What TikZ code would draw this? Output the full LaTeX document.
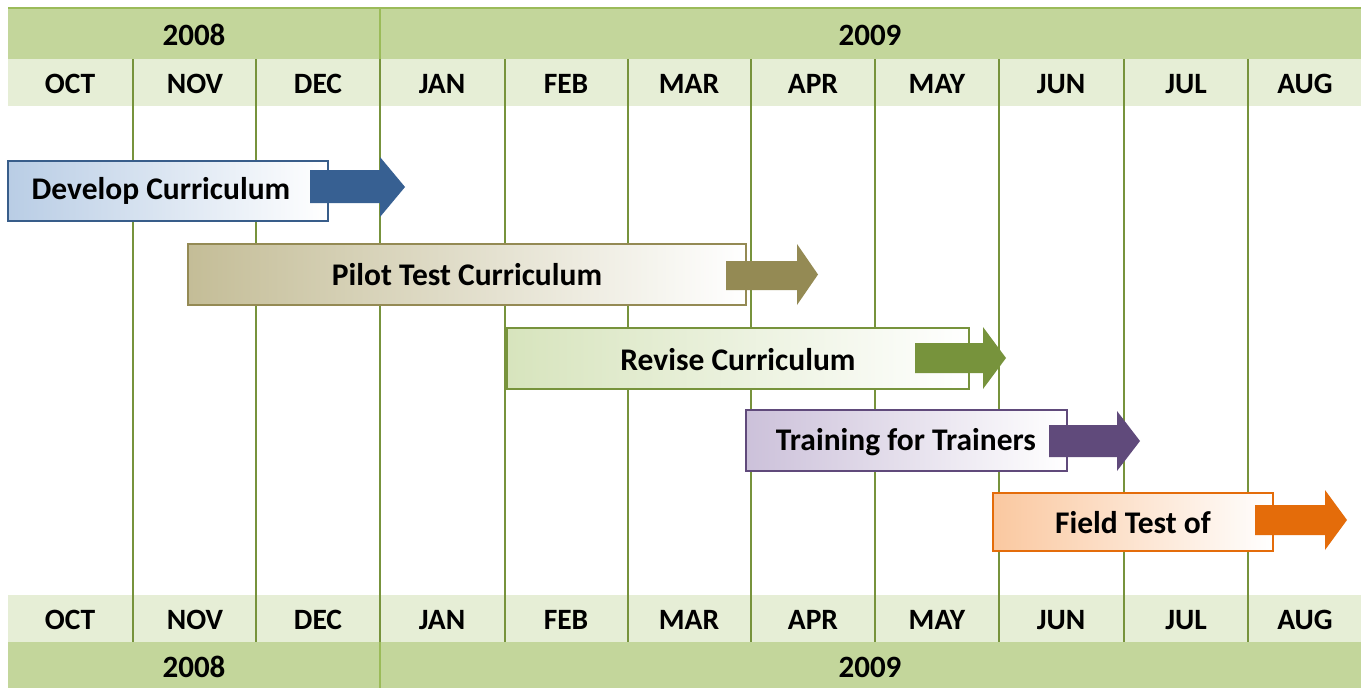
\documentclass[tikz,border=0pt]{standalone}
\usepackage{fontspec}
\setmainfont{Carlito}
\definecolor{yearband}{HTML}{C3D69B}
\definecolor{monthband}{HTML}{E6EED6}
\definecolor{gridline}{HTML}{77933C}
\definecolor{yearline}{HTML}{9BBB59}
\definecolor{blueA}{HTML}{B9CDE5}\definecolor{blueB}{HTML}{385D8A}\definecolor{blueC}{HTML}{376092}
\definecolor{tanA}{HTML}{C4BD97}\definecolor{tanB}{HTML}{948A54}
\definecolor{grnA}{HTML}{D7E4BD}\definecolor{grnB}{HTML}{77933C}
\definecolor{purA}{HTML}{CCC1DA}\definecolor{purB}{HTML}{604A7B}
\definecolor{orgA}{HTML}{FAC8A0}\definecolor{orgB}{HTML}{E46C0A}
\begin{document}
\begin{tikzpicture}[x=1pt,y=-1pt,
  lbl/.style={font=\fontsize{29.5}{34}\selectfont\bfseries, text=black, inner sep=0pt},
  ylbl/.style={font=\fontsize{31}{36}\selectfont\bfseries, text=black, inner sep=0pt},
  blbl/.style={font=\fontsize{31.5}{36}\selectfont\bfseries, text=black, inner sep=0pt},
  band/.style={draw=none, inner sep=0pt, outer sep=0pt, anchor=north west},
  grid/.style={draw=gridline, line width=2.8pt},
  barbox/.style={anchor=north west, inner sep=0pt, outer sep=0pt, line width=1.3pt, right color=white}]
\useasboundingbox (0,0) rectangle (1361,688);
\fill[white] (0,0) rectangle (1361,688);
% bands
\node[band, fill=yearband, minimum width=1353pt, minimum height=51pt] (ytop) at (8,8) {};
\node[band, fill=monthband, minimum width=1353pt, minimum height=47pt] (mtop) at (8,59) {};
\node[band, fill=monthband, minimum width=1353pt, minimum height=47pt] (mbot) at (8,595) {};
\node[band, fill=yearband, minimum width=1353pt, minimum height=46pt] (ybot) at (8,642) {};
\draw[yearline, line width=2pt] (8,8) -- (1361,8);
% grid lines
\foreach \x in {133,256,380,505,628,751,875,999,1124,1248}{
  \draw[grid] (\x,59) -- (\x,642);
}
\draw[yearline, line width=2pt] (380,8) -- (380,59);
\draw[yearline, line width=2pt] (380,642) -- (380,688);
% year labels
\node[ylbl] (y08t) at (194,35) {2008};
\node[ylbl] (y09t) at (870,35) {2009};
\node[ylbl] (y08b) at (194,667) {2008};
\node[ylbl] (y09b) at (870,667) {2009};
% month labels
\foreach \m/\x [count=\i] in {OCT/70,NOV/195,DEC/318,JAN/442,FEB/566,MAR/689,APR/813,MAY/937,JUN/1061,JUL/1186,AUG/1305}{
  \node[lbl] (mt\i) at (\x,84) {\m};
  \node[lbl] (mb\i) at (\x,620) {\m};
}
% bars
\node[barbox, left color=blueA, draw=blueB, minimum width=320pt, minimum height=60pt] (b1) at (8,161) {};
\fill[blueC] (310,170) -- (380,170) -- (380,157) -- (405,187) -- (380,217) -- (380,203) -- (310,203) -- cycle;
\node[blbl] (t1) at (161,191) {Develop Curriculum};

\node[barbox, left color=tanA, draw=tanB, minimum width=558pt, minimum height=61pt] (b2) at (188,244) {};
\fill[tanB] (726,261) -- (797,261) -- (797,244) -- (818,274.5) -- (797,305) -- (797,290) -- (726,290) -- cycle;
\node[blbl] (t2) at (467,275) {Pilot Test Curriculum};

\node[barbox, left color=grnA, draw=grnB, minimum width=462pt, minimum height=61pt] (b3) at (507,328) {};
\fill[grnB] (915,343) -- (983,343) -- (983,327) -- (1006,358) -- (983,389) -- (983,373) -- (915,373) -- cycle;
\node[blbl] (t3) at (738,360) {Revise Curriculum};

\node[barbox, left color=purA, draw=purB, minimum width=321pt, minimum height=61pt] (b4) at (746,410) {};
\fill[purB] (1049,425) -- (1117,425) -- (1117,411) -- (1140,441) -- (1117,471) -- (1117,457) -- (1049,457) -- cycle;
\node[blbl] (t4) at (906,442) {Training for Trainers};

\node[barbox, left color=orgA, draw=orgB, minimum width=280pt, minimum height=58pt] (b5) at (993,493) {};
\fill[orgB] (1255,505) -- (1325,505) -- (1325,490) -- (1347,520) -- (1325,550) -- (1325,535) -- (1255,535) -- cycle;
\node[blbl] (t5) at (1133,523) {Field Test of};
\end{tikzpicture}
\end{document}
